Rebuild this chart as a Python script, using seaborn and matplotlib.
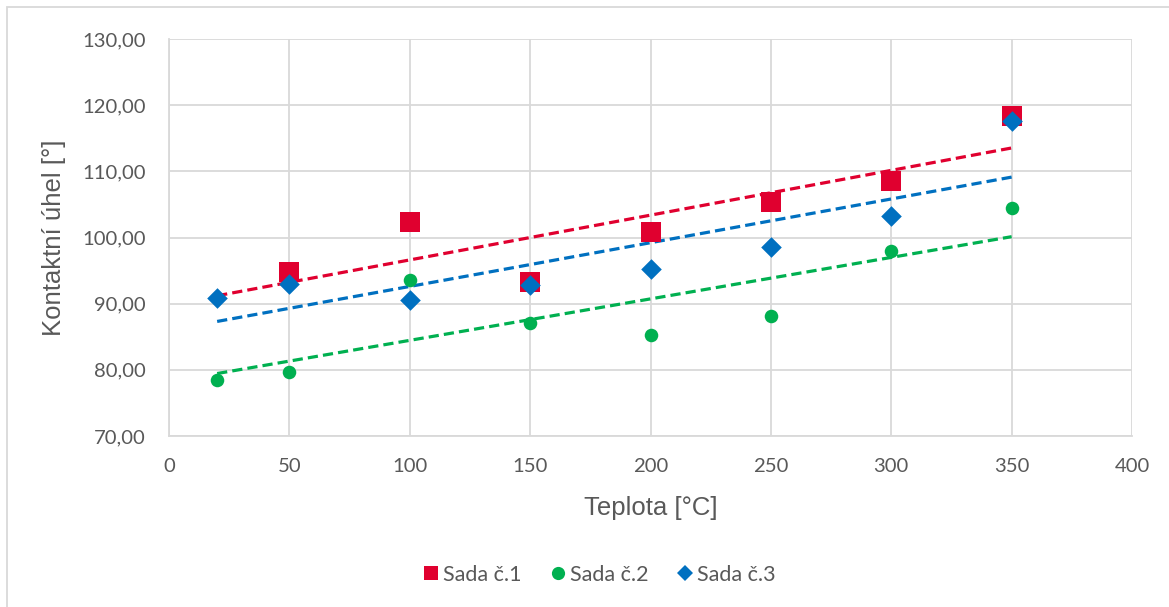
import numpy as np
import pandas as pd
import matplotlib
matplotlib.use("Agg")
import matplotlib.pyplot as plt
import matplotlib.ticker as mticker
from matplotlib.lines import Line2D
import seaborn as sns

# data
teplota_1 = [50, 100, 150, 200, 250, 300, 350]
uhel_1 = [94.85, 102.4, 93.3, 100.9, 105.3, 108.6, 118.3]

teplota_2 = [20, 50, 100, 150, 200, 250, 300, 350]
uhel_2 = [78.4, 79.7, 93.6, 87.1, 85.2, 88.1, 97.9, 104.5]

teplota_3 = [20, 50, 100, 150, 200, 250, 300, 350]
uhel_3 = [90.8, 92.9, 90.6, 92.8, 95.3, 98.6, 103.2, 117.6]

serie = ["Sada č.1", "Sada č.2", "Sada č.3"]
barvy = {"Sada č.1": "#E0002F", "Sada č.2": "#00B050", "Sada č.3": "#0070C0"}
znacky = {"Sada č.1": "s", "Sada č.2": "o", "Sada č.3": "D"}
velikosti = {"Sada č.1": 190, "Sada č.2": 95, "Sada č.3": 110}

df = pd.concat([
    pd.DataFrame({"Teplota": teplota_1, "Uhel": uhel_1, "Sada": serie[0]}),
    pd.DataFrame({"Teplota": teplota_2, "Uhel": uhel_2, "Sada": serie[1]}),
    pd.DataFrame({"Teplota": teplota_3, "Uhel": uhel_3, "Sada": serie[2]}),
])

sns.set_theme(style="white")
plt.rcParams["font.family"] = ["Lato", "DejaVu Sans"]
text_col = "#595959"
grid_col = "#D9D9D9"

fig = plt.figure(figsize=(11.69, 6.07), dpi=100)
ax = fig.add_axes([169 / 1169, 1 - 436 / 607, (1132 - 169) / 1169, (436 - 39) / 607])

# trend lines (linear fit), spanning the x range of all data
x_lo, x_hi = df["Teplota"].min(), df["Teplota"].max()
xx = np.array([x_lo, x_hi])
for s in serie:
    d = df[df["Sada"] == s]
    k, q = np.polyfit(d["Teplota"], d["Uhel"], 1)
    ax.plot(xx, k * xx + q, color=barvy[s], lw=2.3, dashes=(3.2, 1.6), zorder=2)

for s in serie:
    d = df[df["Sada"] == s]
    sns.scatterplot(data=d, x="Teplota", y="Uhel", ax=ax, color=barvy[s],
                    marker=znacky[s], s=velikosti[s], linewidth=0, zorder=3)

ax.set_xlim(0, 400)
ax.set_ylim(70, 130)
ax.xaxis.set_major_locator(mticker.MultipleLocator(50))
ax.yaxis.set_major_locator(mticker.MultipleLocator(10))
ax.yaxis.set_major_formatter(mticker.FuncFormatter(lambda v, p: f"{v:.2f}".replace(".", ",")))
ax.grid(True, color=grid_col, lw=1.3)
ax.set_axisbelow(True)
for sp in ax.spines.values():
    sp.set_visible(False)
for side in ["left", "bottom"]:
    ax.spines[side].set_visible(True)
    ax.spines[side].set_color(grid_col)
    ax.spines[side].set_linewidth(1.3)
ax.tick_params(axis="both", length=0, labelsize=14.6, colors=text_col)
ax.tick_params(axis="x", pad=16)
ax.tick_params(axis="y", pad=16.5)

titul = dict(fontsize=18.5, color=text_col, family=["Liberation Sans", "DejaVu Sans"])
ax.set_xlabel("Teplota [°C]", labelpad=15, **titul)
ax.set_ylabel("Kontaktní úhel [°]", labelpad=12, **titul)

handles = [Line2D([], [], ls="none", marker=znacky[s], color=barvy[s],
                  markersize=10, markeredgewidth=0) for s in serie]
handles[1].set_markersize(9.5)
handles[2].set_markersize(8)
leg = fig.legend(handles, serie, loc="center", bbox_to_anchor=(598 / 1169, 1 - 575 / 607),
                 ncol=3, frameon=False, fontsize=15.5, handletextpad=0.05,
                 columnspacing=1.2, handlelength=1.0)
for t in leg.get_texts():
    t.set_color(text_col)

# outer chart border
fig.patches.append(plt.Rectangle((7 / 1169, -0.01), 1.1, 1 - 7 / 607 + 0.01,
                                 transform=fig.transFigure, fill=False,
                                 edgecolor=grid_col, lw=1.3))

fig.savefig("out.png", dpi=100)
